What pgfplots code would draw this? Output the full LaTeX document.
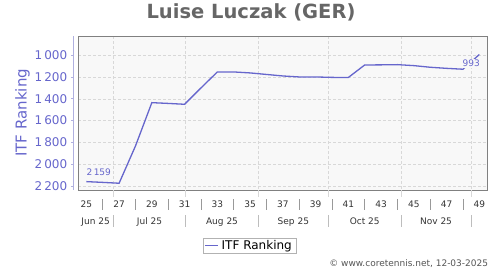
\documentclass[border=0pt]{standalone}
\usepackage{fontspec}
\setmainfont{DejaVu Sans}
\usepackage{pgfplots}
\pgfplotsset{compat=1.18}
\definecolor{lineblue}{HTML}{6666CC}
\definecolor{titlegray}{HTML}{666666}
\definecolor{bggray}{HTML}{F8F8F8}
\definecolor{gridgray}{HTML}{D8D8D8}
\definecolor{framegray}{HTML}{808080}
\definecolor{axisblue}{HTML}{B0B0E0}
\definecolor{labgray}{HTML}{333333}
\definecolor{sepgray}{HTML}{999999}
\definecolor{copygray}{HTML}{555555}
\begin{document}
\begin{tikzpicture}[x=1pt,y=1pt]
\path[use as bounding box] (0,0) rectangle (500,270);
\begin{axis}[
  at={(78pt,80pt)}, anchor=south west,
  scale only axis, width=409pt, height=154pt,
  xmin=24.49, xmax=49.47,
  ymin=823, ymax=2237, y dir=reverse,
  axis background/.style={fill=bggray},
  axis line style={draw=framegray, line width=1pt},
  xtick={26.643,31.071,35.5,39.786,44.214,48.5},
  xticklabels={},
  ytick={1000,1200,1400,1600,1800,2000,2200},
  yticklabels={1\,000,1\,200,1\,400,1\,600,1\,800,2\,000,2\,200},
  yticklabel style={font=\fontsize{12}{14}\selectfont, text=lineblue, xshift=-7.3pt},
  grid=major,
  major grid style={draw=gridgray, dash pattern=on 2.5pt off 2.5pt, line width=0.6pt},
  tick style={draw=none},
  clip=false,
  legend style={at={(0.4193,-0.3097)}, anchor=north, fill=white,
    font=\fontsize{12}{14}\selectfont, inner xsep=1pt, inner ysep=0.5pt,
    nodes={inner xsep=3pt, inner ysep=2pt}},
  every axis legend/.append style={draw=gray!60},
  legend cell align=left,
]
\addplot[draw=lineblue, line width=1.3pt,
  legend image code/.code={\draw[draw=lineblue, line width=1.5pt] (0pt,0pt) -- (13pt,0pt);}] coordinates {
 (25,2160) (26,2167) (27,2175) (28,1833) (29,1435) (30,1442) (31,1450)
 (32,1300) (33,1153) (34,1153) (35,1162) (36,1176) (37,1190) (38,1199)
 (39,1199) (40,1203) (41,1204) (42,1089) (43,1088) (44,1086) (45,1095)
 (46,1110) (47,1120) (48,1128) (49,993)
};
\addlegendentry{ITF Ranking}
\addplot[draw=none, forget plot, nodes near coords, point meta=explicit symbolic,
  nodes near coords style={anchor=south west, font=\fontsize{9}{11}\selectfont,
  text=lineblue, inner sep=1pt, xshift=-1pt, yshift=4.3pt}]
  coordinates {(25,2160)[2\,159]};
\addplot[draw=none, forget plot, nodes near coords, point meta=explicit symbolic,
  nodes near coords style={anchor=north east, font=\fontsize{9}{11}\selectfont,
  text=lineblue, fill=bggray, inner sep=1pt, xshift=1.7pt, yshift=-4.3pt}]
  coordinates {(49,993)[993]};
% separate y axis line
\draw[axisblue, line width=0.8pt] ([xshift=-4.7pt]rel axis cs:0,0) -- ([xshift=-4.7pt]rel axis cs:0,1);
\pgfplotsinvokeforeach{1000,1200,1400,1600,1800,2000,2200}{
  \draw[axisblue, line width=0.8pt] ([xshift=-4.7pt]axis cs:24.49,#1) -- ([xshift=-7.2pt]axis cs:24.49,#1);
}
% week labels
\pgfplotsinvokeforeach{25,27,29,31,33,35,37,39,41,43,45,47,49}{
  \node[anchor=base, font=\fontsize{9}{11}\selectfont, text=labgray, inner sep=0pt]
    at ([yshift=-17.3pt]axis cs:#1,2237) {#1};
}
\pgfplotsinvokeforeach{26,28,30,32,34,36,38,40,42,44,46,48}{
  \draw[sepgray, line width=0.8pt] ([yshift=-9pt]axis cs:#1,2237) -- ([yshift=-20pt]axis cs:#1,2237);
}
% month boundaries
\pgfplotsinvokeforeach{26.643,31.071,35.5,39.786,44.214,48.5}{
  \draw[gridgray, line width=0.8pt] (axis cs:#1,2237) -- ([yshift=-7pt]axis cs:#1,2237);
  \draw[gridgray!70!gray, line width=0.8pt] ([yshift=-25pt]axis cs:#1,2237) -- ([yshift=-36.7pt]axis cs:#1,2237);
}
\node[anchor=base, font=\fontsize{9}{11}\selectfont, text=labgray, inner sep=0pt] at ([yshift=-34.3pt]axis cs:25.57,2237) {Jun 25};
\node[anchor=base, font=\fontsize{9}{11}\selectfont, text=labgray, inner sep=0pt] at ([yshift=-34.3pt]axis cs:28.857,2237) {Jul 25};
\node[anchor=base, font=\fontsize{9}{11}\selectfont, text=labgray, inner sep=0pt] at ([yshift=-34.3pt]axis cs:33.286,2237) {Aug 25};
\node[anchor=base, font=\fontsize{9}{11}\selectfont, text=labgray, inner sep=0pt] at ([yshift=-34.3pt]axis cs:37.643,2237) {Sep 25};
\node[anchor=base, font=\fontsize{9}{11}\selectfont, text=labgray, inner sep=0pt] at ([yshift=-34.3pt]axis cs:42.0,2237) {Oct 25};
\node[anchor=base, font=\fontsize{9}{11}\selectfont, text=labgray, inner sep=0pt] at ([yshift=-34.3pt]axis cs:46.357,2237) {Nov 25};
\end{axis}
\node[anchor=base, font=\fontsize{19.5}{22}\selectfont\bfseries, text=titlegray, inner sep=0pt] at (251,251.7) {Luise Luczak (GER)};
\node[rotate=90, font=\fontsize{15}{18}\selectfont, text=lineblue, inner sep=0pt] at (22.4,157.2) {ITF Ranking};
\node[anchor=east, font=\fontsize{9}{11}\selectfont, text=copygray, inner sep=0pt] at (488.3,6) {© www.coretennis.net, 12-03-2025};
\end{tikzpicture}
\end{document}
